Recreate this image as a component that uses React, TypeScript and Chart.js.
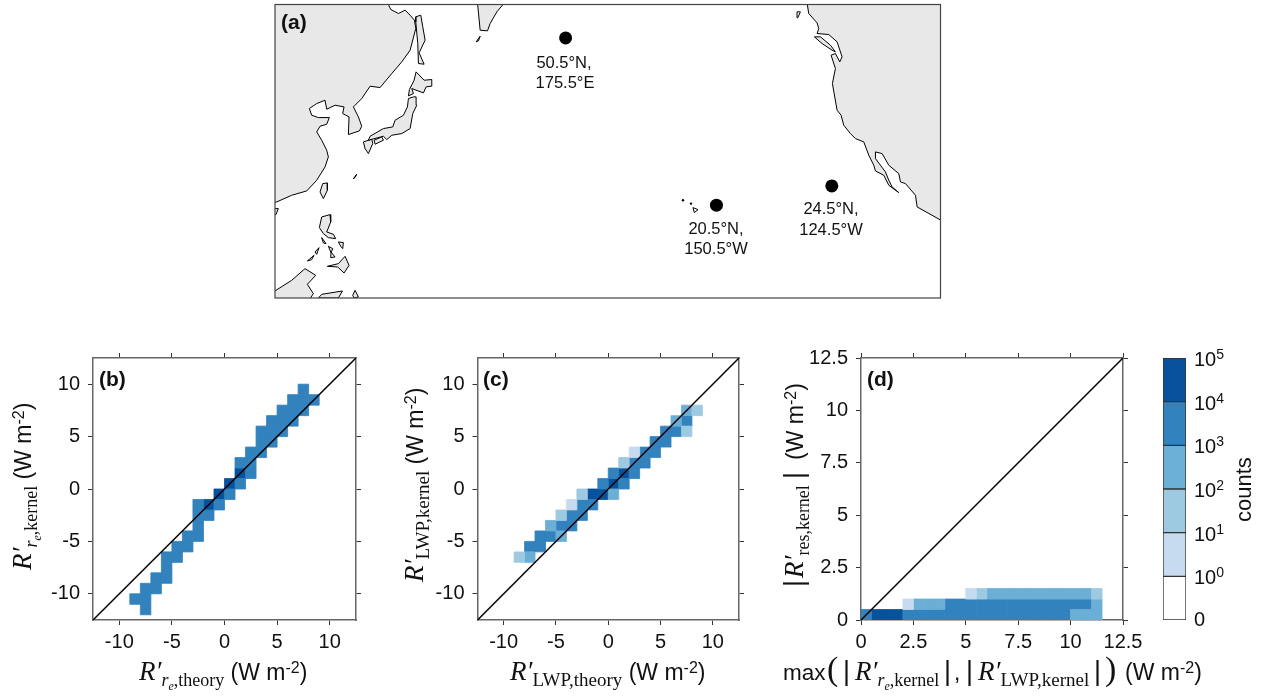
import React, { useEffect, useRef } from "react";
import { Chart, registerables } from "chart.js";

Chart.register(...registerables);
Chart.defaults.font.family = '"Liberation Sans"';

// ---------- data: colour bands ----------
const bandColors = ["#ffffff", "#c6dbef", "#9ecae1", "#6baed6", "#3182bd", "#08519c"];
const bandLabels = ["0", "0", "1", "2", "3", "4", "5"]; // exponents (first edge is plain 0)

// ---------- data: panel (b) [binX, binY, band] ----------
const cellsB = [
  [-8, -12, 4], [-9, -11, 4], [-8, -11, 4], [-8, -10, 4], [-7, -10, 4], [-7, -9, 4], [-6, -9, 4],
  [-6, -8, 4], [-6, -7, 4], [-5, -7, 4], [-5, -6, 4], [-4, -6, 4], [-4, -5, 4], [-3, -5, 4],
  [-3, -4, 4], [-3, -3, 4], [-2, -3, 4], [-3, -2, 4], [-2, -2, 5], [-1, -2, 4], [-1, -1, 5],
  [0, -1, 4], [0, 0, 5], [1, 0, 4], [1, 1, 5], [2, 1, 4], [1, 2, 4], [2, 2, 4], [2, 3, 4], [3, 3, 4],
  [3, 4, 4], [4, 4, 4], [3, 5, 4], [4, 5, 4], [5, 5, 4], [4, 6, 4], [5, 6, 4], [6, 6, 4],
  [5, 7, 4], [6, 7, 4], [7, 7, 4], [6, 8, 4], [7, 8, 4], [8, 8, 4], [7, 9, 4],
];

// ---------- data: panel (c) [binX, binY, band] ----------
const cellsC = [
  [-9, -7, 2], [-8, -7, 3], [-8, -6, 4], [-7, -6, 4], [-7, -5, 4], [-6, -5, 4], [-5, -5, 3],
  [-6, -4, 3], [-5, -4, 4], [-4, -4, 4], [-5, -3, 2], [-4, -3, 4], [-3, -3, 4],
  [-4, -2, 1], [-3, -2, 4], [-2, -2, 4], [-3, -1, 2], [-2, -1, 5], [-1, -1, 5], [0, -1, 3],
  [-1, 0, 4], [0, 0, 5], [1, 0, 4], [0, 1, 4], [1, 1, 5], [2, 1, 4], [1, 2, 2], [2, 2, 4], [3, 2, 4],
  [2, 3, 1], [3, 3, 4], [4, 3, 4], [4, 4, 4], [5, 4, 4], [5, 5, 4], [6, 5, 4], [7, 5, 2],
  [6, 6, 3], [7, 6, 4], [7, 7, 3], [8, 7, 2],
];

// ---------- data: panel (d), band per 0.5-wide bin, starting at binStart ----------
const rowD0 = { y: 0.25, binStart: 0, bands: [4, 5, 5, 5, 4, 4, 4, 4, 4, 4, 4, 4, 4, 4, 4, 4, 4, 4, 4, 4, 3, 3, 3] };
const rowD1 = { y: 0.75, binStart: 4, bands: [1, 3, 3, 3, 4, 4, 4, 4, 4, 4, 4, 4, 4, 4, 4, 4, 4, 4, 3] };
const rowD2 = { y: 1.25, binStart: 10, bands: [1, 2, 3, 3, 3, 3, 3, 3, 3, 3, 3, 3, 2] };

// ---------- data: axis ticks ----------
const ticksBC = [-10, -5, 0, 5, 10];
const ticksD = [0, 2.5, 5, 7.5, 10, 12.5];

// ---------- data: stations ----------
const stations = [
  { lat: 50.5, lon: 175.5, lines: ["50.5°N,", "175.5°E"] },
  { lat: 20.5, lon: 209.5, lines: ["20.5°N,", "150.5°W"] },
  { lat: 24.5, lon: 235.5, lines: ["24.5°N,", "124.5°W"] },
];

// ---------- data: coast outlines in map grid units (lon*13.3, mercator*761.4) ----------
const asia = [[355,13],[362,28],[385,40],[405,30],[420,45],[433,60],[437,85],[420,150],[395,185],[365,220],[330,262],[300,258],[275,295],[250,320],[265,350],[275,378],[268,392],[235,403],[237,350],[218,340],[222,320],[195,315],[170,327],[165,300],[140,310],[118,325],[125,345],[145,352],[178,352],[170,372],[150,378],[140,395],[155,420],[170,450],[175,470],[165,500],[140,540],[110,572],[65,585],[20,605],[10,607],[10,8],[355,8],[355,13]];
const hainan = [[10,625],[25,625],[18,643],[10,645],[10,625]];
const sakhalin = [[452,45],[437,50],[437,65],[443,130],[445,190],[462,192],[447,158],[465,120],[458,80],[452,45]];
const hokkaido = [[438,215],[432,240],[418,268],[415,287],[430,280],[425,265],[460,278],[468,260],[483,258],[485,238],[462,240],[438,215]];
const honshu = [[430,290],[415,295],[412,320],[400,345],[375,360],[368,380],[340,385],[300,408],[295,420],[340,408],[350,418],[365,405],[395,400],[420,385],[428,340],[440,315],[438,290],[430,290]];
const kyushu = [[280,425],[305,417],[308,430],[295,460],[285,445],[280,425]];
const shikoku = [[312,420],[335,410],[340,420],[315,432],[312,420]];
const taiwan = [[158,550],[172,548],[172,570],[160,595],[150,575],[158,550]];
const okinawa = [[250,535],[260,522],[255,532],[250,535]];
const luzon = [[155,650],[180,643],[182,665],[170,695],[190,702],[197,715],[175,712],[160,700],[148,682],[155,650]];
const mindoro = [[155,712],[168,730],[160,728],[155,712]];
const panay = [[175,738],[188,745],[183,757],[175,738]];
const samar = [[205,725],[220,727],[218,745],[212,738],[205,725]];
const negros = [[183,755],[195,770],[182,772],[183,755]];
const palawanS = [[112,782],[132,765],[125,778],[112,782]];
const palawanN = [[135,755],[147,742],[140,762],[135,755]];
const mindanao = [[172,798],[205,790],[225,768],[237,795],[222,818],[203,800],[172,798]];
const borneo = [[10,875],[65,840],[105,805],[137,825],[112,852],[130,880],[118,898],[10,898],[10,875]];
const sulawesi = [[145,893],[155,882],[217,872],[205,893],[145,893]];
const halmahera = [[248,885],[255,870],[265,890],[252,893],[248,885]];
const kamchatka = [[622,8],[630,90],[652,92],[660,70],[680,35],[703,8],[622,8]];
const kuril = [[618,125],[630,108],[625,122],[618,125]];
const northAmerica = [[1610,8],[1615,40],[1640,68],[1645,85],[1640,100],[1675,103],[1700,125],[1715,170],[1708,185],[1695,160],[1682,165],[1695,205],[1686,250],[1700,330],[1712,345],[1720,375],[1740,400],[1755,415],[1780,425],[1795,465],[1810,495],[1815,512],[1840,525],[1855,555],[1885,577],[1865,560],[1855,540],[1845,515],[1815,475],[1815,455],[1835,460],[1855,495],[1885,520],[1890,545],[1905,550],[1935,585],[1940,620],[2015,662],[2015,8],[1610,8]];
const vancouver = [[1632,110],[1650,110],[1680,135],[1695,155],[1685,150],[1655,130],[1632,110]];
const landPolys = [asia, hainan, sakhalin, hokkaido, honshu, kyushu, shikoku, taiwan, okinawa, luzon, mindoro, panay, samar, negros, palawanS, palawanN, mindanao, borneo, sulawesi, halmahera, kamchatka, kuril, northAmerica, vancouver];
const aleutianRock = [[1580,35],[1590,35],[1582,53],[1580,35]];
const hawaiiBig = [[1268,622],[1283,628],[1272,637],[1268,622]];
const hawaiiDots = [[1238,600],[1262,610]];

// ---------- text helpers ----------
const ital = (s: number) => `italic ${s}px "Liberation Serif"`;
const serif = (s: number) => `${s}px "Liberation Serif"`;
const sans = (s: number) => `${s}px "Liberation Sans"`;
const bold = (s: number) => `bold ${s}px "Liberation Sans"`;
type Run = { t: string; f: string; dy?: number; at?: number };
type TextItem = { runs: Run[]; x: number; y: number; rot?: number; center?: boolean };

function drawRuns(ctx: CanvasRenderingContext2D, item: TextItem) {
  ctx.save();
  ctx.translate(item.x, item.y);
  if (item.rot) ctx.rotate(item.rot);
  ctx.textBaseline = "alphabetic";
  ctx.textAlign = "left";
  ctx.fillStyle = "#111";
  let pen = 0;
  if (item.center) {
    let w = 0;
    for (const r of item.runs) { ctx.font = r.f; w += ctx.measureText(r.t).width; }
    pen = -w / 2;
  }
  for (const r of item.runs) {
    ctx.font = r.f;
    if (r.at != null) pen = r.at;
    ctx.fillText(r.t, pen, r.dy || 0);
    pen += ctx.measureText(r.t).width;
  }
  ctx.restore();
}

const units = (): Run[] => [
  { t: " (W m", f: sans(23) },
  { t: "-2", f: sans(16), dy: -7 },
  { t: ")", f: sans(23) },
];
const rPrime = (): Run => ({ t: "R′", f: ital(27) });
const reSub = (rest: string): Run[] => [
  { t: "r", f: ital(18), dy: 6 },
  { t: "e", f: ital(12), dy: 10 },
  { t: rest, f: serif(18), dy: 6 },
];
const lwpSub = (rest: string): Run[] => [{ t: "LWP" + rest, f: serif(19), dy: 6 }];
const UP = -Math.PI / 2;

const textsB: TextItem[] = [
  { runs: [{ t: "(b)", f: bold(21) }], x: 99, y: 386 },
  { runs: [rPrime(), ...reSub(",theory"), ...units()], x: 139, y: 680 },
  { runs: [rPrime(), ...reSub(",kernel"), ...units()], x: 31, y: 570, rot: UP },
];
const textsC: TextItem[] = [
  { runs: [{ t: "(c)", f: bold(21) }], x: 483, y: 386 },
  { runs: [rPrime(), ...lwpSub(",theory"), ...units()], x: 510, y: 680 },
  { runs: [rPrime(), ...lwpSub(",kernel"), ...units()], x: 423, y: 582, rot: UP },
];
const textsD: TextItem[] = [
  { runs: [{ t: "(d)", f: bold(21) }], x: 867, y: 386 },
  {
    runs: [
      { t: "|", f: sans(27), at: 0 },
      { t: "R′", f: ital(27), at: 9 },
      { t: "res,kernel", f: serif(18), dy: 6 },
      { t: "|", f: sans(27), at: 108 },
      { t: "(W m", f: sans(23), at: 127 },
      { t: "-2", f: sans(16), dy: -7 },
      { t: ")", f: sans(23) },
    ],
    x: 803, y: 587, rot: UP,
  },
  {
    runs: [
      { t: "max", f: sans(22.5), at: 0 },
      { t: "(", f: serif(34), at: 44 },
      { t: "|", f: sans(27), at: 60 },
      { t: "R′", f: ital(27), at: 72 },
      ...reSub(",kernel"),
      { t: "|", f: sans(27), at: 161 },
      { t: ",", f: sans(22.5), at: 171 },
      { t: "|", f: sans(27), at: 183 },
      { t: "R′", f: ital(27), at: 195 },
      ...lwpSub(",kernel"),
      { t: "|", f: sans(27), at: 311 },
      { t: ")", f: serif(34), at: 322 },
      { t: "(W m", f: sans(23), at: 342 },
      { t: "-2", f: sans(16), dy: -7 },
      { t: ")", f: sans(23) },
    ],
    x: 783, y: 680,
  },
];
const textsA: TextItem[] = [
  { runs: [{ t: "(a)", f: bold(21) }], x: 281, y: 29 },
  { runs: [{ t: stations[0].lines[0], f: sans(16.5) }], x: 564, y: 68, center: true },
  { runs: [{ t: stations[0].lines[1], f: sans(16.5) }], x: 565, y: 88, center: true },
  { runs: [{ t: stations[1].lines[0], f: sans(16.5) }], x: 716, y: 234, center: true },
  { runs: [{ t: stations[1].lines[1], f: sans(16.5) }], x: 716, y: 254, center: true },
  { runs: [{ t: stations[2].lines[0], f: sans(16.5) }], x: 831, y: 214, center: true },
  { runs: [{ t: stations[2].lines[1], f: sans(16.5) }], x: 831, y: 235, center: true },
];

// ---------- chart builders ----------
type Box = { ox: number; oy: number; w: number; h: number; L: number; R: number; T: number; B: number };

const textPlugin = (box: Box, items: TextItem[]) => ({
  id: "texts",
  afterDraw(chart: any) {
    const ctx = chart.ctx;
    ctx.save();
    ctx.translate(-box.ox, -box.oy);
    items.forEach((it) => drawRuns(ctx, it));
    ctx.restore();
  },
});

function axis(pos: "left" | "right" | "top" | "bottom", min: number, max: number, ticks: number[], box: Box, labels: boolean) {
  const size =
    pos === "left" ? box.L - box.ox : pos === "right" ? box.ox + box.w - box.R : pos === "top" ? box.T - box.oy : box.oy + box.h - box.B;
  return {
    type: "linear",
    position: pos,
    min,
    max,
    afterBuildTicks: (s: any) => { s.ticks = ticks.map((value) => ({ value })); },
    afterFit: (s: any) => {
      if (pos === "left" || pos === "right") s.width = size; else s.height = size;
      s.paddingTop = 0;
      s.paddingBottom = 0;
      s.paddingLeft = 0;
      s.paddingRight = 0;
    },
    border: { display: true, color: "#666", width: 1.5 },
    grid: { display: true, drawOnChartArea: false, drawTicks: true, tickLength: 5, tickColor: "#333", tickWidth: 1 },
    ticks: {
      display: labels,
      autoSkip: false,
      maxRotation: 0,
      padding: pos === "left" ? 8 : 5,
      color: "#111",
      font: { size: 20 },
      callback: (v: number) => String(v),
    },
  };
}

function heatChart(canvas: HTMLCanvasElement, box: Box, min: number, max: number, ticks: number[], binW: number, cells: number[][], items: TextItem[]) {
  const datasets: any[] = [
    {
      label: "1:1",
      data: [{ x: min, y: min }, { x: max, y: max }],
      showLine: true,
      borderColor: "#000",
      borderWidth: 1.5,
      pointRadius: 0,
      order: 0,
    },
  ];
  bandColors.forEach((color, band) => {
    const pts = cells.filter((c) => c[2] === band).map((c) => ({ x: c[0], y: c[1] }));
    if (!pts.length) return;
    datasets.push({
      label: "band" + band,
      data: pts,
      showLine: false,
      pointStyle: "rect",
      pointRadius: (ctx: any) => {
        const s = ctx.chart.scales.x;
        return Math.abs(s.getPixelForValue(binW) - s.getPixelForValue(0)) / Math.SQRT2;
      },
      pointBackgroundColor: color,
      pointBorderColor: color,
      pointBorderWidth: 0.8,
      order: 1,
    });
  });
  return new Chart(canvas, {
    type: "scatter",
    data: { datasets },
    options: {
      responsive: false,
      animation: false,
      devicePixelRatio: 1,
      layout: { autoPadding: false, padding: 0 },
      plugins: { legend: { display: false }, tooltip: { enabled: false } },
      scales: {
        x: axis("bottom", min, max, ticks, box, true),
        xTop: axis("top", min, max, ticks, box, false),
        y: axis("left", min, max, ticks, box, true),
        yRight: axis("right", min, max, ticks, box, false),
      },
    } as any,
    plugins: [textPlugin(box, items)],
  } as any);
}

const centered = (cells: number[][], binW: number) => cells.map((c) => [c[0] * binW + binW / 2, c[1] * binW + binW / 2, c[2]]);
const rowCells = (row: { y: number; binStart: number; bands: number[] }) =>
  row.bands.map((b, i) => [(row.binStart + i) * 0.5 + 0.25, row.y, b]);

const boxA: Box = { ox: 270, oy: 0, w: 680, h: 305, L: 275, R: 940.5, T: 4.5, B: 298 };
const boxB: Box = { ox: 0, oy: 345, w: 370, h: 351, L: 93, R: 356, T: 358, B: 620 };
const boxC: Box = { ox: 390, oy: 345, w: 370, h: 351, L: 477.5, R: 739, T: 358, B: 620 };
const boxD: Box = { ox: 750, oy: 345, w: 460, h: 351, L: 861, R: 1123, T: 358, B: 620 };
const boxBar: Box = { ox: 1150, oy: 345, w: 111, h: 351, L: 1163, R: 1186, T: 358, B: 620 };

const mercator = (lat: number) => Math.log(Math.tan(Math.PI / 4 + (lat * Math.PI) / 360));
const gridX = (lon: number) => 15 + (lon - 110) * 13.3;
const gridY = (lat: number) => 893 - mercator(lat) * 761.4;
const toPts = (p: number[][]) => p.map(([x, y]) => ({ x, y }));

function mapChart(canvas: HTMLCanvasElement) {
  const poly = (p: number[][], fill: string) => ({
    data: toPts(p),
    showLine: true,
    fill: "shape",
    backgroundColor: fill,
    borderColor: "#000",
    borderWidth: 1,
    pointRadius: 0,
    tension: 0,
    order: 2,
  });
  const datasets: any[] = [
    ...landPolys.map((p) => poly(p, "#e8e8e8")),
    poly(aleutianRock, "#ffffff"),
    poly(hawaiiBig, "#ffffff"),
    { data: toPts(hawaiiDots), showLine: false, pointRadius: 1.2, pointBackgroundColor: "#000", pointBorderWidth: 0, order: 1 },
    {
      data: stations.map((s) => ({ x: gridX(s.lon), y: gridY(s.lat) })),
      showLine: false,
      pointStyle: "circle",
      pointRadius: 6.5,
      pointBackgroundColor: "#000",
      pointBorderWidth: 0,
      order: 0,
    },
  ];
  const frame = {
    id: "frame",
    afterDraw(chart: any) {
      const { left, top, width, height } = chart.chartArea;
      chart.ctx.save();
      chart.ctx.strokeStyle = "#444";
      chart.ctx.lineWidth = 1.2;
      chart.ctx.strokeRect(left, top, width, height);
      chart.ctx.restore();
    },
  };
  return new Chart(canvas, {
    type: "scatter",
    data: { datasets },
    options: {
      responsive: false,
      animation: false,
      devicePixelRatio: 1,
      layout: {
        autoPadding: false,
        padding: { left: boxA.L - boxA.ox, right: boxA.ox + boxA.w - boxA.R, top: boxA.T - boxA.oy, bottom: boxA.oy + boxA.h - boxA.B },
      },
      plugins: { legend: { display: false }, tooltip: { enabled: false } },
      scales: {
        x: { type: "linear", display: false, min: 15, max: 2010 },
        y: { type: "linear", display: false, min: 13, max: 893, reverse: true },
      },
    } as any,
    plugins: [frame, textPlugin(boxA, textsA)],
  } as any);
}

function colorbarChart(canvas: HTMLCanvasElement) {
  const box = boxBar;
  const labelsPlugin = {
    id: "barLabels",
    afterDraw(chart: any) {
      const y = chart.scales.y;
      const ctx = chart.ctx;
      ctx.save();
      ctx.translate(-box.ox, -box.oy);
      bandLabels.forEach((exp, i) => {
        const py = y.getPixelForValue(i) + box.oy;
        const runs: Run[] = i === 0
          ? [{ t: "0", f: sans(20) }]
          : [{ t: "10", f: sans(20) }, { t: exp, f: sans(14), dy: -7 }];
        drawRuns(ctx, { runs, x: 1194, y: py + (i === 0 ? 6 : 8) });
      });
      drawRuns(ctx, { runs: [{ t: "counts", f: sans(22) }], x: 1251, y: 522, rot: UP });
      ctx.restore();
    },
  };
  return new Chart(canvas, {
    type: "bar",
    data: {
      labels: ["counts"],
      datasets: bandColors.map((color, i) => ({
        data: [[i, i + 1]],
        backgroundColor: color,
        borderColor: "#333",
        borderWidth: 1,
        borderSkipped: false,
        barPercentage: 1,
        categoryPercentage: 1,
        grouped: false,
      })),
    },
    options: {
      responsive: false,
      animation: false,
      devicePixelRatio: 1,
      layout: {
        autoPadding: false,
        padding: { left: box.L - box.ox, right: box.ox + box.w - box.R, top: box.T - box.oy, bottom: box.oy + box.h - box.B },
      },
      plugins: { legend: { display: false }, tooltip: { enabled: false } },
      scales: {
        x: { display: false },
        y: { type: "linear", display: false, min: 0, max: 6 },
      },
    } as any,
    plugins: [labelsPlugin],
  } as any);
}

function Panel({ box, build }: { box: Box; build: (c: HTMLCanvasElement) => Chart }) {
  const ref = useRef<HTMLCanvasElement>(null);
  useEffect(() => {
    const chart = build(ref.current as HTMLCanvasElement);
    return () => chart.destroy();
  }, []);
  return (
    <canvas
      ref={ref}
      width={box.w}
      height={box.h}
      style={{ position: "absolute", left: box.ox, top: box.oy, width: box.w, height: box.h, display: "block" }}
    />
  );
}

export default function App() {
  return (
    <div style={{ position: "absolute", left: 0, top: 0, width: 1261, height: 696, background: "#fff", overflow: "hidden" }}>
      <Panel box={boxA} build={mapChart} />
      <Panel box={boxB} build={(c) => heatChart(c, boxB, -12.5, 12.5, ticksBC, 1, centered(cellsB, 1), textsB)} />
      <Panel box={boxC} build={(c) => heatChart(c, boxC, -12.5, 12.5, ticksBC, 1, centered(cellsC, 1), textsC)} />
      <Panel
        box={boxD}
        build={(c) => heatChart(c, boxD, 0, 12.5, ticksD, 0.5, [...rowCells(rowD0), ...rowCells(rowD1), ...rowCells(rowD2)], textsD)}
      />
      <Panel box={boxBar} build={colorbarChart} />
    </div>
  );
}
